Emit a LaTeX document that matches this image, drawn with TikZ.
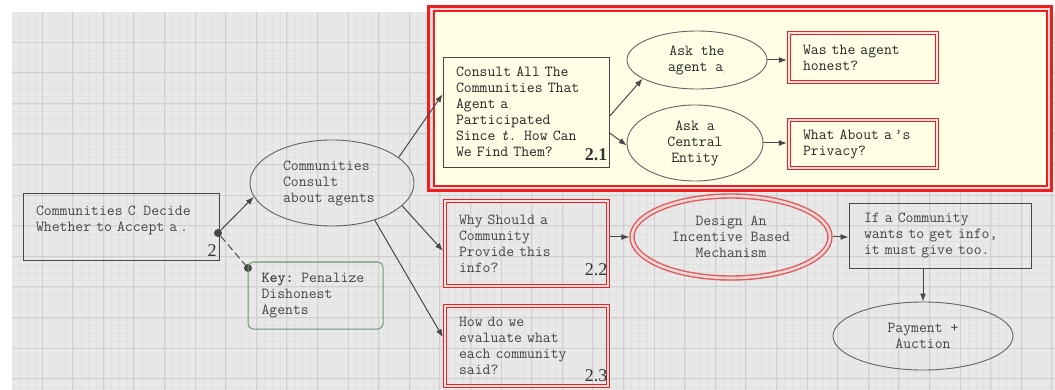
\documentclass[tikz,border=0pt]{standalone}
\usepackage{fontspec}
\newfontfamily\numfont{Liberation Serif}
\usetikzlibrary{arrows.meta,shapes.geometric}
\definecolor{ink}{HTML}{474747}
\definecolor{txt}{HTML}{454545}
\definecolor{paper}{HTML}{E9E9E9}
\definecolor{minor}{HTML}{E1E1E1}
\definecolor{major}{HTML}{D0D0D0}
\definecolor{note}{HTML}{FFFFE6}
\definecolor{alarm}{HTML}{EE1F1F}
\definecolor{soft}{HTML}{E35858}
\definecolor{keygreen}{HTML}{6E9770}
\newcommand{\sx}{{\color{black!25}\fontsize{5}{5}\selectfont\raisebox{-2pt}{x}}}

\begin{document}
\begin{tikzpicture}[x=1pt,y=-1pt,>=Latex,
      font=\ttfamily\fontsize{15.3}{16}\selectfont,text=txt,
      box/.style={draw=ink,line width=.9pt,align=left,inner sep=0pt},
      bubble/.style={ellipse,draw=ink!85,line width=.9pt,align=center,inner sep=0pt},
      redbox/.style={draw=alarm,line width=1.2pt,double=alarm!12,double distance=1.8pt,
                    align=left,inner sep=0pt,outer sep=2.1pt},
      redbubble/.style={ellipse,draw=soft,line width=1.4pt,double=soft!12!paper,
                    double distance=2.6pt,align=center,inner sep=0pt,outer sep=2.7pt},
      keybox/.style={draw=keygreen,line width=1pt,rounded corners=5pt,align=left,inner sep=0pt},
      joint/.style={circle,fill=ink,inner sep=0pt,minimum size=8pt},
      arr/.style={-{Latex[length=8pt,width=6pt]},line width=1pt,draw=ink},
      tag/.style={font=\numfont\fontsize{18}{18}\selectfont,text=black!80,inner sep=0pt}]
    \useasboundingbox (0,0) rectangle (1055,390);
    % grid paper
    \fill[white] (0,0) rectangle (1055,390);
    \fill[paper] (12,12) rectangle (1055,390);
    \foreach \gx in {19.65,27.3,...,1055} \draw[minor,line width=.5pt] (\gx,12) -- (\gx,390);
    \foreach \gy in {19.65,27.3,...,390} \draw[minor,line width=.5pt] (12,\gy) -- (1055,\gy);
    \foreach \gx in {42,72.6,...,1055} \draw[major,line width=.8pt] (\gx,12) -- (\gx,390);
    \foreach \gy in {42,72.6,...,390} \draw[major,line width=.8pt] (12,\gy) -- (1055,\gy);
    % highlighted part 2.1
    \fill[alarm!18] (427,5) rectangle (1053,192);
    \draw[alarm,line width=3pt] (428.5,6.5) rectangle (1051.5,190.5);
    \filldraw[fill=note,draw=alarm,line width=2pt] (434,11) rectangle (1047,186);

    \node[box,minimum width=196pt,minimum height=67pt,text width=170pt] (decide) at (121,226.5) {Communities C\sx{} Decide\\Whether to Accept a\sx.\\\mbox{}};
    \node[tag] (n2) at (212,251) {2};
    \node[bubble,minimum width=164pt,minimum height=86pt,text width=98pt,align=left] (consult) at (332,183) {Communities\\Consult\\about agents};
    \node[joint] (jdot) at (218,233) {};
    \node[joint] (kdot) at (248,268) {};
    \node[keybox,minimum width=135pt,minimum height=67pt,text width=108pt] (key) at (315.5,295.5) {\textbf{Key:} Penalize\\Dishonest\\Agents};
    \draw[arr] (jdot) -- (consult.190);
    \draw[ink,line width=1pt,dash pattern=on 7pt off 4pt] (jdot) -- (kdot);

    \node[box,minimum width=166pt,minimum height=110pt,text width=140pt,text=black!85] (consult21) at (526,112) {Consult All The\\Communities That\\Agent a\sx\\Participated\\Since \textit{t}. How Can\\We Find Them?};
    \node[tag,font=\numfont\bfseries\fontsize{18}{18}\selectfont] (n21) at (596,155) {2.1};
    \node[bubble,minimum width=140pt,minimum height=58pt,text=black!85] (askagent) at (697,60) {Ask the\\agent a\sx};
    \node[bubble,minimum width=136pt,minimum height=76pt,text=black!85] (central) at (695,143) {Ask a\\Central\\Entity};
    \node[redbox,minimum width=148pt,minimum height=49pt,text width=120pt,text=black!85] (honest) at (863,57.5) {Was the agent\\honest?};
    \node[redbox,minimum width=148pt,minimum height=48pt,text width=120pt,text=black!85] (privacy) at (863,144) {What About a\sx’s\\Privacy?};
    \draw[arr] (consult.21) -- (consult21.168);
    \draw[arr] (consult21.357) -- (askagent.199);
    \draw[arr] (consult21.346) -- (central.182);
    \draw[arr] (askagent.east) -- (askagent.east -| honest.west);
    \draw[arr] (central.east) -- (central.east -| privacy.west);

    \node[redbox,minimum width=163pt,minimum height=85pt,text width=135pt] (why22) at (526.5,243.5) {Why Should a\\Community\\Provide this\\info?};
    \node[tag] (n22) at (596,270) {2.2};
    \node[redbox,minimum width=163pt,minimum height=80pt,text width=135pt] (eval23) at (526.5,346) {How do we\\evaluate what\\each community\\said?};
    \node[tag] (n23) at (596,376) {2.3};
    \draw[arr] (consult.342) -- (why22.185);
    \draw[arr] (consult.319) -- (eval23.174);

    \node[redbubble,minimum width=198pt,minimum height=82pt] (design) at (731,237) {Design An\\Incentive Based\\Mechanism};
    \node[box,minimum width=182pt,minimum height=65pt,text width=152pt] (giveinfo) at (940,235.5) {If a Community\\wants to get info,\\it must give too.};
    \node[bubble,minimum width=180pt,minimum height=68pt] (payment) at (923,336) {Payment +\\Auction};
    \draw[arr] (why22.east |- design.west) -- (design.west);
    \draw[arr] (design.east) -- (design.east -| giveinfo.west);
    \draw[arr] (payment.north |- giveinfo.south) -- (payment.north);
\end{tikzpicture}
\end{document}
